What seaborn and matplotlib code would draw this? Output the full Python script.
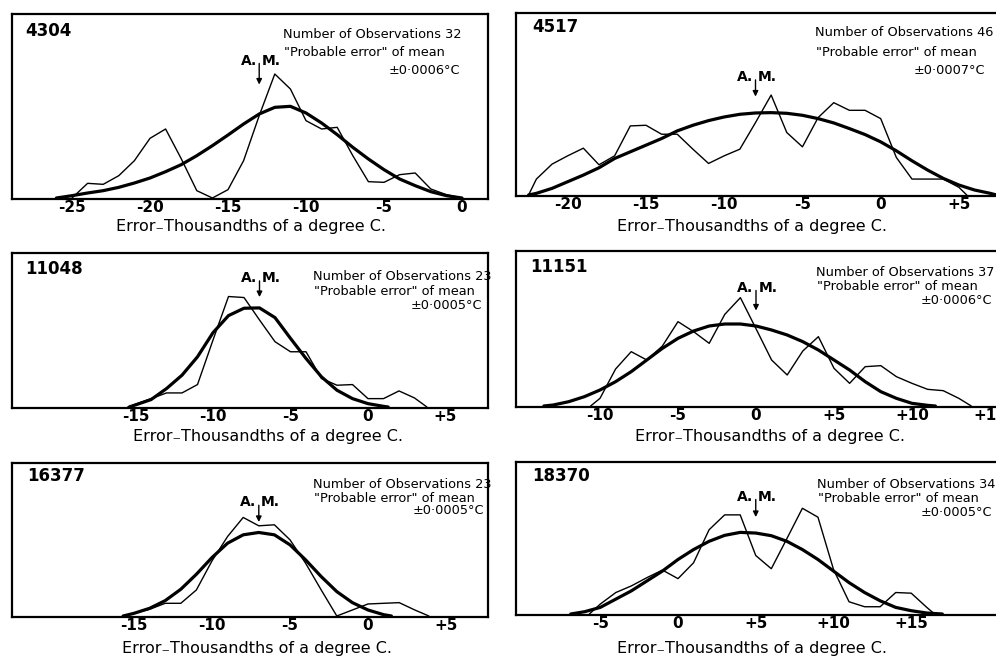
import matplotlib
matplotlib.use("Agg")
import matplotlib.pyplot as plt
import seaborn as sns

# ---- data (heights in arbitrary units) ----
# 4304
obs_4304_x = [-25, -24, -23, -22, -21, -20, -19, -18, -17, -16, -15, -14, -13, -12, -11, -10, -9, -8, -7, -6, -5, -4, -3, -2, -1, 0]
obs_4304_y = [0, 44, 41, 67, 112, 179, 207, 118, 22, 0, 25, 112, 247, 372, 327, 232, 207, 212, 127, 49, 47, 70, 75, 27, 10, 0]
fit_4304_x = [-26, -25, -24, -23, -22, -21, -20, -19, -18, -17, -16, -15, -14, -13, -12, -11, -10, -9, -8, -7, -6, -5, -4, -3, -2, -1, 0]
fit_4304_y = [0, 7, 15, 22, 32, 45, 60, 79, 100, 127, 157, 189, 222, 252, 272, 275, 255, 225, 190, 152, 117, 85, 57, 37, 19, 7, 0]

# 4517
obs_4517_x = [-22.5, -22, -21, -20, -19, -18, -17, -16, -15, -14, -13, -12, -11, -10, -9, -8, -7, -6, -5, -4, -3, -2, -1, 0, 1, 2, 3, 4, 5, 5.5]
obs_4517_y = [0, 48, 93, 118, 141, 91, 118, 208, 210, 183, 183, 138, 95, 118, 138, 218, 301, 188, 145, 233, 278, 255, 255, 230, 113, 48, 48, 48, 23, 0]
fit_4517_x = [-22.5, -22, -21, -20, -19, -18, -17, -16, -15, -14, -13, -12, -11, -10, -9, -8, -7, -6, -5, -4, -3, -2, -1, 0, 1, 2, 3, 4, 5, 6, 7, 7.4]
fit_4517_y = [0, 5, 20, 40, 60, 82, 110, 130, 150, 170, 193, 210, 224, 235, 243, 247, 248, 246, 240, 230, 217, 200, 182, 160, 133, 103, 75, 50, 30, 15, 5, 0]

# 11048
obs_11048_x = [-15.5, -14, -13, -12, -11, -10, -9, -8, -7, -6, -5, -4, -3, -2, -1, 0, 1, 2, 3, 3.8]
obs_11048_y = [0, 25, 42, 42, 67, 200, 330, 327, 260, 195, 165, 165, 85, 65, 67, 25, 25, 48, 27, 0]
fit_11048_x = [-15.4, -14, -13, -12, -11, -10, -9, -8, -7, -6, -5, -4, -3, -2, -1, 0, 1, 1.3]
fit_11048_y = [0, 22, 55, 95, 150, 222, 273, 295, 296, 267, 205, 145, 90, 50, 25, 10, 2, 0]

# 11151
obs_11151_x = [-10.6, -10, -9, -8, -7, -6, -5, -4, -3, -2, -1, 0, 1, 2, 3, 4, 5, 6, 7, 8, 9, 10, 11, 12, 13, 13.8]
obs_11151_y = [0, 23, 111, 163, 138, 180, 253, 223, 188, 275, 325, 232, 138, 93, 165, 208, 113, 68, 118, 121, 88, 68, 50, 46, 23, 0]
fit_11151_x = [-13.6, -13, -12, -11, -10, -9, -8, -7, -6, -5, -4, -3, -2, -1, 0, 1, 2, 3, 4, 5, 6, 7, 8, 9, 10, 11, 11.5]
fit_11151_y = [0, 3, 13, 28, 48, 73, 103, 138, 173, 203, 225, 240, 246, 246, 240, 228, 213, 193, 168, 138, 108, 73, 43, 23, 8, 2, 0]

# 16377
obs_16377_x = [-15.7, -14, -13, -12, -11, -10, -9, -8, -7, -6, -5, -4, -3, -2, -1, 0, 1, 2, 3, 3.9]
obs_16377_y = [0, 20, 38, 38, 78, 165, 238, 295, 270, 273, 228, 158, 78, 0, 18, 36, 38, 40, 18, 0]
fit_16377_x = [-15.7, -15, -14, -13, -12, -11, -10, -9, -8, -7, -6, -5, -4, -3, -2, -1, 0, 1, 1.5]
fit_16377_y = [0, 8, 23, 46, 80, 125, 175, 218, 243, 250, 243, 213, 168, 118, 73, 40, 18, 4, 0]

# 18370
obs_18370_x = [-5.7, -5, -4, -3, -2, -1, 0, 1, 2, 3, 4, 5, 6, 7, 8, 9, 10, 11, 12, 13, 14, 15, 16, 16.5]
obs_18370_y = [0, 30, 65, 85, 110, 133, 107, 155, 255, 300, 300, 177, 137, 228, 320, 293, 135, 37, 22, 22, 65, 63, 20, 0]
fit_18370_x = [-6.9, -6, -5, -4, -3, -2, -1, 0, 1, 2, 3, 4, 5, 6, 7, 8, 9, 10, 11, 12, 13, 14, 15, 16, 17]
fit_18370_y = [0, 7, 20, 45, 70, 100, 130, 165, 195, 220, 238, 247, 245, 237, 220, 195, 165, 130, 95, 65, 40, 20, 10, 3, 0]

plate_ids = ["4304", "4517", "11048", "11151", "16377", "18370"]
n_obs = [32, 46, 23, 37, 23, 34]
prob_err = ["0·0006", "0·0007", "0·0005", "0·0006", "0·0005", "0·0005"]
arith_mean = [-13, -8, -7, 0, -7, 5]
tick_vals = [
    [-25, -20, -15, -10, -5, 0],
    [-20, -15, -10, -5, 0, 5],
    [-15, -10, -5, 0, 5],
    [-10, -5, 0, 5, 10, 15],
    [-15, -10, -5, 0, 5],
    [-5, 0, 5, 10, 15],
]

sns.set_style("white")
plt.rcParams['font.family'] = ['DejaVu Sans']
plt.rcParams['text.color'] = 'black'
plt.rcParams['xtick.color'] = 'black'
plt.rcParams['xtick.labelcolor'] = 'black'

W, H = 996, 661
fig = plt.figure(figsize=(W / 100, H / 100), dpi=100)
fig.patch.set_facecolor("white")


def fx(x):
    return x / W


def fy(y):
    return 1 - y / H


def tick_text(v):
    if v > 0:
        return "+%d" % v
    if v < 0:
        return "-%d" % abs(v)
    return "0"


def panel(i, box, zero_px, px_unit, top, ox, oy, gx, gy, am_tip, am_txt,
          id_xy, note_x, note_right, note_y, gap, lab_xy):
    x0, y0, x1, y1 = box
    ax = fig.add_axes([fx(x0), fy(y1), fx(x1 - x0), (y1 - y0) / H])
    sns.lineplot(x=ox, y=oy, ax=ax, color="black", lw=1.0, sort=False, estimator=None)
    sns.lineplot(x=gx, y=gy, ax=ax, color="black", lw=2.3, sort=False, estimator=None)
    ax.set_xlim((x0 - zero_px) / px_unit, (x1 - zero_px) / px_unit)
    ax.set_ylim(-3, top)
    ax.set_yticks([])
    ax.set_xticks(tick_vals[i])
    ax.set_xticklabels([tick_text(v) for v in tick_vals[i]], fontsize=11, fontweight="bold")
    ax.tick_params(axis="x", length=0, pad=1)
    ax.set_xlabel("")
    ax.set_ylabel("")
    for s in ax.spines.values():
        s.set_visible(True)
        s.set_color("black")
        s.set_linewidth(1.6)

    m = arith_mean[i]
    ax.annotate("", xy=(m, am_tip), xytext=(m, am_txt),
                arrowprops=dict(arrowstyle="-|>", color="black", lw=1.0, mutation_scale=8))
    ax.text(m - 0.15, am_txt, "A.", ha="right", va="center", fontsize=10, fontweight="bold")
    ax.text(m + 0.15, am_txt, "M.", ha="left", va="center", fontsize=10, fontweight="bold")

    fig.text(fx(id_xy[0]), fy(id_xy[1]), plate_ids[i], ha="left", va="center",
             fontsize=12, fontweight="bold")
    fig.text(fx(note_x), fy(note_y), "Number of Observations %d" % n_obs[i],
             ha="left", va="center", fontsize=9.3)
    fig.text(fx(note_x + 1), fy(note_y + gap), '"Probable error" of mean',
             ha="left", va="center", fontsize=9.3)
    fig.text(fx(note_right), fy(note_y + 2 * gap), "±%s°C" % prob_err[i],
             ha="right", va="center", fontsize=9.3)
    fig.text(fx(lab_xy[0]), fy(lab_xy[1]), "Error₋Thousandths of a degree C.",
             ha="center", va="center", fontsize=11.5)
    return ax


panel(0, (12, 14, 488, 199), 462, 15.6, 552, obs_4304_x, obs_4304_y, fit_4304_x, fit_4304_y,
      332, 412, (25, 31), 283, 460, 35, 18, (251, 227))
panel(1, (516, 13, 1000, 196), 880.7, 15.65, 548, obs_4517_x, obs_4517_y, fit_4517_x, fit_4517_y,
      288, 355, (532, 27), 815, 985, 33, 19, (752, 227))
panel(2, (12, 253, 488, 408), 368, 15.5, 460, obs_11048_x, obs_11048_y, fit_11048_x, fit_11048_y,
      320, 385, (25, 269), 313, 482, 277, 14, (268, 437))
panel(3, (516, 251, 1000, 407), 756, 15.6, 465, obs_11151_x, obs_11151_y, fit_11151_x, fit_11151_y,
      278, 355, (530, 267), 816, 992, 273, 14, (770, 437))
panel(4, (12, 463, 488, 617), 368, 15.6, 458, obs_16377_x, obs_16377_y, fit_16377_x, fit_16377_y,
      273, 340, (27, 476), 313, 484, 485, 13, (257, 648))
panel(5, (516, 462, 1000, 615), 678, 15.55, 460, obs_18370_x, obs_18370_y, fit_18370_x, fit_18370_y,
      285, 355, (532, 476), 817, 992, 484, 14, (752, 648))

fig.savefig("out.png", dpi=100, facecolor="white")
